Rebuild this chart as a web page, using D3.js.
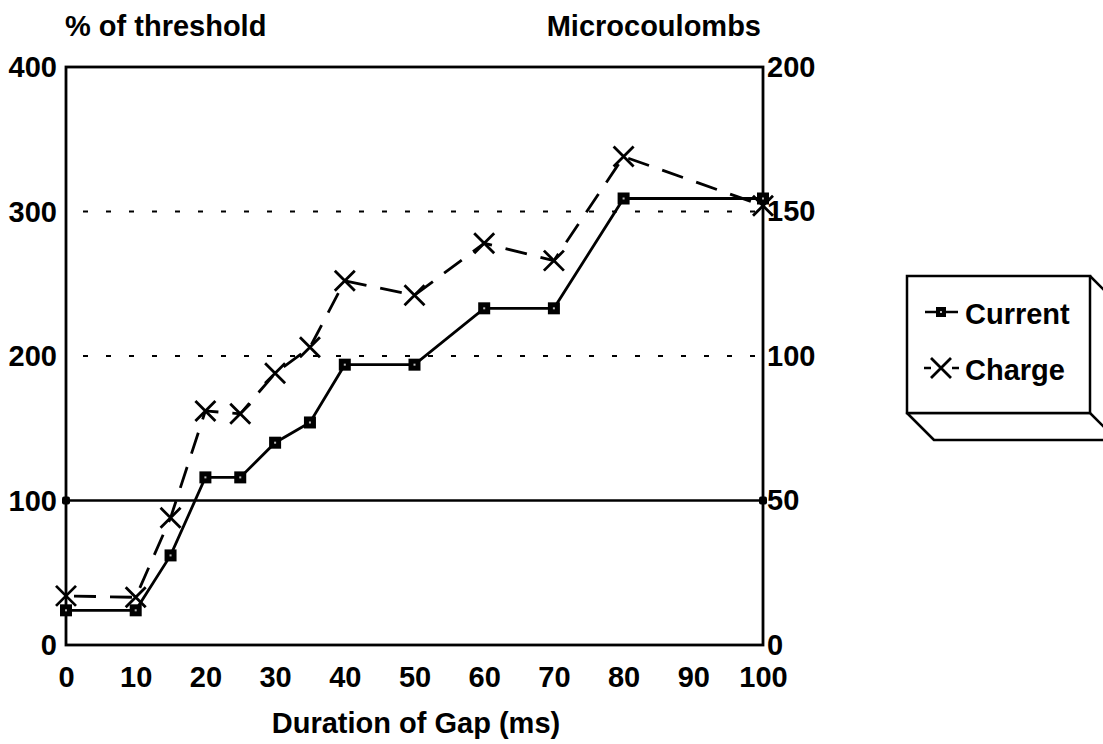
<!DOCTYPE html>
<html>
<head>
<meta charset="utf-8">
<script src="https://cdn.jsdelivr.net/npm/d3@7"></script>
<style>
  html, body { margin: 0; padding: 0; background: #fff; }
  svg { display: block; }
  text { font-family: "Liberation Sans", Arial, Helvetica, sans-serif; font-weight: bold; fill: #000; }
</style>
</head>
<body>
<svg id="chart" width="1103" height="744"></svg>
<script>
// Gap durations (ms)
const gapMs = [0, 10, 15, 20, 25, 30, 35, 40, 50, 60, 70, 80, 100];
// Current, as % of threshold (left axis)
const currentPct = [24, 24, 62, 116, 116, 140, 154, 194, 194, 233, 233, 309, 309];
// Charge, in microcoulombs (right axis)
const chargeUC = [17, 16.5, 44, 81, 80, 94, 103, 126, 121, 139, 133, 169, 152];
// Threshold reference line (% of threshold)
const thresholdPct = 100;
// Dotted reference levels (% of threshold)
const gridPct = [200, 300];
// Tick labels
const xTicks = [0, 10, 20, 30, 40, 50, 60, 70, 80, 90, 100];
const leftTicks = [0, 100, 200, 300, 400];
const rightTicks = [0, 50, 100, 150, 200];
const legendLabels = ["Current", "Charge"];

const svg = d3.select("#chart");
const plot = { left: 66, right: 763, top: 67, bottom: 645 };

const x = d3.scaleLinear().domain([0, 100]).range([plot.left, plot.right]);
const yL = d3.scaleLinear().domain([0, 400]).range([plot.bottom, plot.top]);
const yR = d3.scaleLinear().domain([0, 200]).range([plot.bottom, plot.top]);

const FS = 29;
const FONT = "'Liberation Sans', Arial, sans-serif";

// Dotted reference levels
svg.append("g").selectAll("line").data(gridPct).join("line")
  .attr("x1", x(0)).attr("x2", x(100))
  .attr("y1", d => yL(d)).attr("y2", d => yL(d))
  .attr("stroke", "#000").attr("stroke-width", 2)
  .attr("stroke-dasharray", "5,18").attr("stroke-dashoffset", 6);

// Threshold line with end markers
svg.append("line")
  .attr("x1", x(0)).attr("x2", x(100))
  .attr("y1", yL(thresholdPct)).attr("y2", yL(thresholdPct))
  .attr("stroke", "#000").attr("stroke-width", 2.5);
svg.append("g").selectAll("rect").data([0, 100]).join("rect")
  .attr("x", d => x(d) - 4).attr("y", yL(thresholdPct) - 4)
  .attr("width", 8).attr("height", 8).attr("rx", 2).attr("fill", "#000");

// Plot frame
svg.append("rect")
  .attr("x", plot.left).attr("y", plot.top)
  .attr("width", plot.right - plot.left).attr("height", plot.bottom - plot.top)
  .attr("fill", "none").attr("stroke", "#000").attr("stroke-width", 2.8);

// Axis tick labels
const xAxis = d3.axisBottom(x).tickValues(xTicks).tickSize(0).tickPadding(0);
const gx = svg.append("g").attr("transform", `translate(0,${plot.bottom})`).call(xAxis);
gx.select(".domain").remove();
gx.selectAll("text").attr("font-size", FS).attr("y", 42).attr("dy", 0)
  .style("font-family", FONT).style("font-weight", "bold");

const yAxisL = d3.axisLeft(yL).tickValues(leftTicks).tickSize(0).tickPadding(0);
const gl = svg.append("g").attr("transform", `translate(${plot.left},0)`).call(yAxisL);
gl.select(".domain").remove();
gl.selectAll("text").attr("font-size", FS).attr("x", -9).attr("dy", "0.33em")
  .style("font-family", FONT).style("font-weight", "bold");

const yAxisR = d3.axisRight(yR).tickValues(rightTicks).tickSize(0).tickPadding(0);
const gr = svg.append("g").attr("transform", `translate(${plot.right},0)`).call(yAxisR);
gr.select(".domain").remove();
gr.selectAll("text").attr("font-size", FS).attr("x", 4).attr("dy", "0.32em")
  .style("font-family", FONT).style("font-weight", "bold");

// Axis titles
svg.append("text").attr("x", 65).attr("y", 36).attr("font-size", FS).text("% of threshold");
svg.append("text").attr("x", 761).attr("y", 36).attr("font-size", FS)
  .attr("text-anchor", "end").text("Microcoulombs");
svg.append("text").attr("x", 416).attr("y", 733)
  .attr("font-size", FS).attr("text-anchor", "middle").text("Duration of Gap (ms)");

// Series
const current = gapMs.map((g, i) => ({ g, v: currentPct[i] }));
const charge = gapMs.map((g, i) => ({ g, v: chargeUC[i] }));

const lineCur = d3.line().x(d => x(d.g)).y(d => yL(d.v));
const lineChg = d3.line().x(d => x(d.g)).y(d => yR(d.v));

svg.append("path").datum(charge).attr("d", lineChg)
  .attr("fill", "none").attr("stroke", "#000").attr("stroke-width", 2.8)
  .attr("stroke-dasharray", "22,14").attr("stroke-dashoffset", -8);

svg.append("path").datum(current).attr("d", lineCur)
  .attr("fill", "none").attr("stroke", "#000").attr("stroke-width", 2.8);

function squareMarker(sel, cx, cy) {
  sel.append("rect").attr("x", cx - 6).attr("y", cy - 6)
    .attr("width", 12).attr("height", 12).attr("fill", "#000");
  sel.append("rect").attr("x", cx - 1).attr("y", cy - 1)
    .attr("width", 2).attr("height", 2).attr("fill", "#bbb");
}
function crossMarker(sel, cx, cy) {
  const r = 10;
  sel.append("path")
    .attr("d", `M${cx - r},${cy - r}L${cx + r},${cy + r}M${cx - r},${cy + r}L${cx + r},${cy - r}`)
    .attr("stroke", "#000").attr("stroke-width", 2.8).attr("fill", "none");
}

const gCur = svg.append("g");
current.forEach(d => squareMarker(gCur, x(d.g), yL(d.v)));
const gChg = svg.append("g");
charge.forEach(d => crossMarker(gChg, x(d.g), yR(d.v)));

// Legend box with 3-D edge
const lg = svg.append("g");
const L = { x0: 907, y0: 276, x1: 1090, y1: 413, d: 27 };
lg.append("path")
  .attr("d", `M${L.x0},${L.y1}L${L.x0 + L.d},${L.y1 + L.d}L${L.x1 + L.d},${L.y1 + L.d}L${L.x1},${L.y1}Z` +
             `M${L.x1},${L.y0}L${L.x1 + L.d},${L.y0 + L.d}L${L.x1 + L.d},${L.y1 + L.d}`)
  .attr("fill", "#fff").attr("stroke", "#000").attr("stroke-width", 2.5).attr("stroke-linejoin", "round");
lg.append("rect").attr("x", L.x0).attr("y", L.y0)
  .attr("width", L.x1 - L.x0).attr("height", L.y1 - L.y0)
  .attr("fill", "#fff").attr("stroke", "#000").attr("stroke-width", 2.5);

// Legend entries
const ly = [312, 368];
lg.append("line").attr("x1", 925).attr("x2", 958).attr("y1", ly[0]).attr("y2", ly[0])
  .attr("stroke", "#000").attr("stroke-width", 2.5);
lg.append("rect").attr("x", 936).attr("y", ly[0] - 5).attr("width", 10).attr("height", 10).attr("fill", "#000");
lg.append("rect").attr("x", 940).attr("y", ly[0] - 1).attr("width", 2).attr("height", 2).attr("fill", "#bbb");
lg.append("line").attr("x1", 924).attr("x2", 959).attr("y1", ly[1]).attr("y2", ly[1])
  .attr("stroke", "#000").attr("stroke-width", 2.5).attr("stroke-dasharray", "7,21");
crossMarker(lg, 941, ly[1]);
lg.selectAll("text.lbl").data(legendLabels).join("text").attr("class", "lbl")
  .attr("x", 965).attr("y", (d, i) => ly[i] + 12).attr("font-size", FS).text(d => d);
</script>
</body>
</html>
